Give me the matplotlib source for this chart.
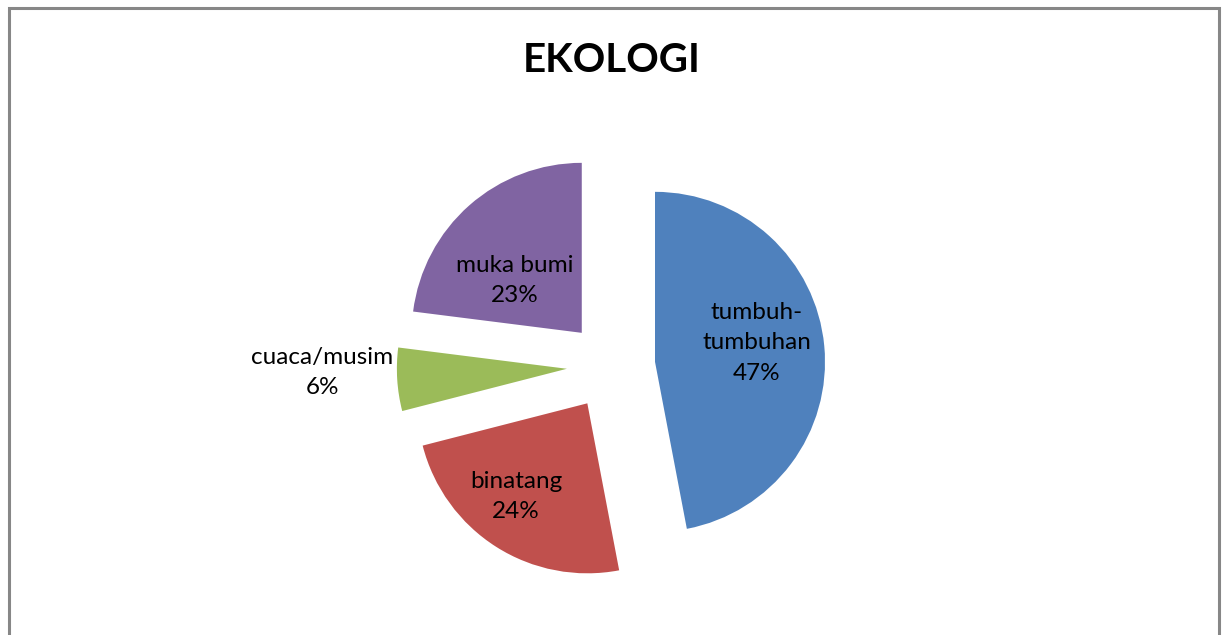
import numpy as np
import matplotlib.pyplot as plt
from matplotlib.patches import Rectangle

labels = ['tumbuh-\ntumbuhan', 'binatang', 'cuaca/musim', 'muka bumi']
values = [47, 24, 6, 23]
colors = ['#4F81BD', '#C0504D', '#9BBB59', '#8064A2']
# label placement: distance from wedge apex (in radii) and angle nudge (deg)
label_dist = [0.61, 0.69, 1.44, 0.50]
label_turn = [5.1, -5.1, -2.8, 10.7]

plt.rcParams['font.family'] = ['Lato', 'DejaVu Sans']

W, H = 1227, 635
fig = plt.figure(figsize=(W / 100, H / 100), dpi=100)
ax = fig.add_axes([0, 0, 1, 1])
ax.set_xlim(0, W)
ax.set_ylim(0, H)
ax.set_aspect('equal')
ax.axis('off')

# chart frame (bottom runs off the image)
ax.add_patch(Rectangle((8.5, -20), 1210, H - 7.5 + 20, fill=False,
                       edgecolor='#878787', linewidth=2.2))

ax.text(612, H - 60, 'EKOLOGI', ha='center', va='center',
        fontsize=29, fontweight='bold')

R = 170
# explode is in data units here, so scale by the radius
wedges, _ = ax.pie(values, colors=colors, startangle=90, counterclock=False,
                   center=(611, H - 366), radius=R, explode=[0.26 * R] * 4,
                   wedgeprops=dict(linewidth=0))

for w, lab, v, d, t in zip(wedges, labels, values, label_dist, label_turn):
    ang = np.deg2rad((w.theta1 + w.theta2) / 2 + t)
    cx, cy = w.center
    x = cx + d * R * np.cos(ang)
    y = cy + d * R * np.sin(ang)
    ax.text(x, y, f'{lab}\n{v}%', ha='center', va='center',
            fontsize=17.5, linespacing=1.55)

ax.set_xlim(0, W)
ax.set_ylim(0, H)
fig.savefig('out.png', dpi=100)
